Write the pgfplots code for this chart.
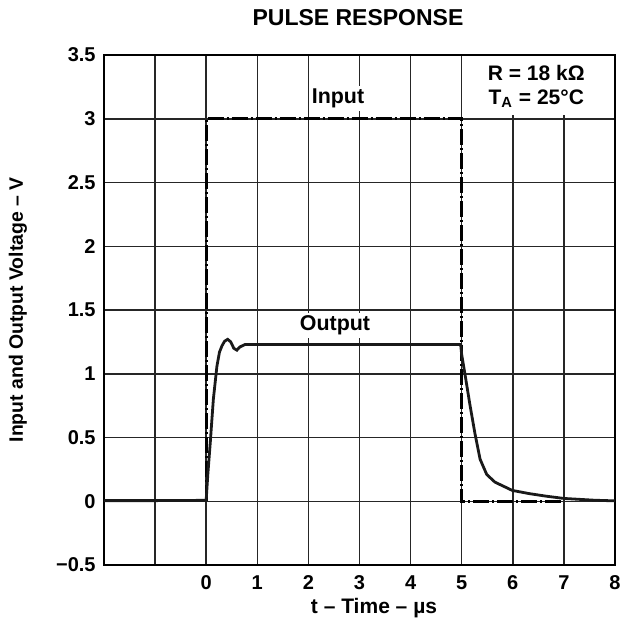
\documentclass[border=0pt]{standalone}
\usepackage{fontspec}
\setmainfont{Liberation Sans}
\usepackage{pgfplots}
\pgfplotsset{compat=1.18}

\begin{document}
\begin{tikzpicture}
\begin{axis}[
    set layers=standard,
    scale only axis,
    width=255.5pt, height=255pt,
    xmin=-2, xmax=8, ymin=-0.5, ymax=3.5,
    xtick={-2,-1,0,1,2,3,4,5,6,7,8},
    xticklabels={,,0,1,2,3,4,5,6,7,8},
    ytick={-0.5,0,0.5,1,1.5,2,2.5,3,3.5},
    yticklabels={−0.5,0,0.5,1,1.5,2,2.5,3,3.5},
    major tick length=0pt,
    grid=major,
    major grid style={line width=0.75pt, black!85},
    axis line style={line width=1pt, black},
    ticklabel style={font=\bfseries\fontsize{10}{11}\selectfont},
    yticklabel style={inner sep=0pt, xshift=-4pt},
    xticklabel style={inner sep=0pt, yshift=-5pt},
]
% input pulse (dash-dot)
\addplot[line width=1.6pt, black, dash pattern=on 8pt off 1.5pt on 1pt off 1.5pt] coordinates {
    (0,0) (0,3) (5,3) (5,0) (7,0)
};
% output response
\addplot[line width=1.4pt, black!90] coordinates {
    (-2,0.005) (-1,0.005) (-0.05,0.007) (0,0.01) (0.03,0.2) (0.078,0.45)
    (0.14,0.80) (0.21,1.06) (0.26,1.17) (0.31,1.22) (0.36,1.255) (0.42,1.27)
    (0.48,1.25) (0.54,1.20) (0.6,1.185) (0.66,1.21) (0.76,1.23) (1,1.23)
    (4.98,1.23) (5.0,1.15) (5.065,0.995) (5.16,0.76) (5.26,0.53) (5.36,0.33)
    (5.49,0.21) (5.65,0.15) (5.99,0.085) (6.32,0.06) (6.65,0.04) (7,0.022)
    (7.6,0.008) (8,0.003)
};
\fill[white] (axis cs:5.03,3.03) rectangle (axis cs:7.97,3.49);
\node[fill=white, inner sep=1.5pt, font=\bfseries\fontsize{10.7}{12}\selectfont] at (axis cs:2.58,3.16) {Input};
\node[fill=white, inner sep=1.5pt, font=\bfseries\fontsize{10.7}{12}\selectfont] at (axis cs:2.52,1.38) {Output};
\node[font=\bfseries\fontsize{10.5}{12}\selectfont] at (axis cs:6.46,3.36) {R = 18 kΩ};
\node[font=\bfseries\fontsize{10.5}{12}\selectfont] at (axis cs:6.46,3.16) {T\textsubscript{A} = 25°C};
\end{axis}
\node[font=\bfseries\fontsize{11.5}{13}\selectfont] at (127pt,273.5pt) {PULSE RESPONSE};
\node[rotate=90, font=\bfseries\fontsize{9.7}{11}\selectfont] at (-43pt,127.5pt) {Input and Output Voltage – V};
\node[font=\bfseries\fontsize{10.5}{12}\selectfont] at (135pt,-21.5pt) {t – Time – µs};
\pgfresetboundingbox
\path[use as bounding box] (-52pt,-34.5pt) rectangle (259.5pt,282.5pt);
\end{tikzpicture}
\end{document}
